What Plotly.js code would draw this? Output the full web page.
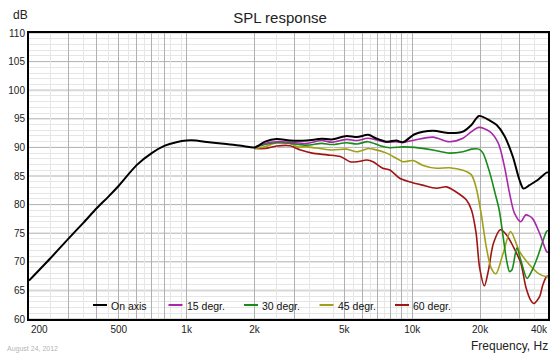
<!DOCTYPE html>
<html>
<head>
<meta charset="utf-8">
<script src="https://cdn.plot.ly/plotly-3.0.1.min.js"></script>
<style>
html,body{margin:0;padding:0;background:#fff;}
#chart{width:560px;height:356px;}
</style>
</head>
<body>
<div id="chart"></div>
<script>
// ---- data ----
const seriesNames = ['On axis', '15 degr.', '30 degr.', '45 degr.', '60 degr.'];
const seriesColors = ['#000000', '#a828a8', '#1a8a1a', '#a0a018', '#a01414'];

const freqOnAxis = [200, 250, 300, 350, 400, 450, 500, 600, 700, 800, 900, 1000, 1100, 1200, 1500, 1800, 2000, 2227, 2507, 2871, 3404, 3967, 4400, 5117, 5700, 6377, 6900, 7700, 8500, 9100, 10257, 12360, 14600, 16780, 18300, 19760, 22100, 23700, 25660, 27920, 29900, 31150, 33100, 36000, 39400, 40000];
const dbOnAxis = [66.7, 70.7, 74.1, 76.9, 79.4, 81.4, 83.3, 86.9, 89.0, 90.3, 90.9, 91.2, 91.2, 91.0, 90.6, 90.2, 90.0, 91.0, 91.45, 91.2, 91.2, 91.5, 91.4, 92.0, 91.8, 92.2, 91.6, 91.0, 91.2, 90.9, 92.3, 92.9, 92.5, 92.75, 93.9, 95.5, 94.7, 93.9, 92.0, 88.4, 84.3, 82.8, 83.4, 84.3, 85.6, 85.6];

const freq15 = [2000, 2227, 2507, 2871, 3404, 3967, 4400, 5117, 5700, 6377, 7700, 8500, 9100, 10257, 12360, 14600, 16780, 18300, 19760, 22100, 24100, 25660, 27010, 28400, 30300, 31900, 34100, 36700, 39400, 40000];
const db15 = [90.0, 90.7, 91.0, 90.9, 90.7, 91.2, 90.9, 91.4, 91.2, 91.6, 90.9, 91.0, 90.85, 91.3, 91.8, 91.0, 91.6, 92.75, 93.5, 92.75, 90.7, 86.6, 82.0, 78.5, 77.0, 78.2, 77.6, 75.0, 71.8, 71.6];

const freq30 = [2000, 2227, 2507, 2871, 3404, 3967, 4400, 5117, 5700, 6377, 7200, 7960, 9100, 10257, 12360, 14600, 16780, 18300, 19760, 20600, 22100, 23300, 24300, 25300, 26200, 27000, 27700, 29100, 30300, 32300, 34000, 36000, 39400, 40000];
const db30 = [90.0, 90.5, 90.8, 90.7, 90.4, 90.7, 90.5, 90.8, 90.6, 91.0, 90.3, 89.95, 90.1, 90.0, 89.55, 89.0, 89.25, 89.7, 89.7, 89.0, 85.5, 82.0, 79.1, 74.4, 70.3, 68.3, 68.6, 72.4, 70.3, 67.1, 68.5, 70.9, 75.3, 75.5];

const freq45 = [2000, 2227, 2507, 2871, 3100, 3404, 3900, 4400, 5117, 5700, 6377, 6700, 7700, 8500, 9100, 10100, 11100, 12800, 14600, 16800, 18300, 19200, 20200, 21300, 22400, 23500, 25300, 27300, 29900, 33100, 36500, 39400, 40000];
const db45 = [89.8, 90.1, 90.8, 90.7, 90.1, 90.1, 89.8, 89.55, 89.7, 89.25, 89.8, 89.7, 89.0, 88.1, 87.5, 87.7, 86.9, 86.35, 86.45, 86.0, 85.2, 83.0, 78.5, 72.6, 68.9, 67.9, 71.5, 75.3, 71.8, 69.5, 67.9, 67.4, 67.4];

const freq60 = [2000, 2227, 2507, 2871, 3000, 3200, 3600, 4200, 4800, 5300, 5700, 6300, 6700, 7400, 7960, 8800, 9700, 11100, 12800, 14200, 15600, 17400, 18300, 19200, 19900, 20900, 21800, 22900, 24600, 26200, 28100, 30300, 31900, 33500, 34600, 36700, 37900, 39400, 40000];
const db60 = [89.8, 89.8, 90.25, 90.3, 90.0, 89.55, 89.0, 88.7, 88.4, 87.5, 87.5, 87.8, 87.5, 86.35, 86.05, 84.6, 84.0, 83.4, 82.85, 83.1, 82.25, 80.8, 79.1, 75.0, 69.0, 65.8, 68.6, 73.2, 75.6, 74.7, 72.6, 69.8, 65.6, 63.3, 62.7, 63.9, 65.9, 67.4, 67.5];

const xMajorGrid = [300, 400, 500, 600, 700, 800, 1000, 2000, 3000, 5000, 6000, 7000, 8000, 9000, 10000, 20000, 30000];
const xMajorText = ['', '', '500', '', '', '', '1k', '2k', '', '5k', '', '', '', '', '10k', '20k', ''];
const xMinorGrid = [250, 350, 450, 550, 650, 750, 850, 950, 2500, 3500, 4500, 5500, 6500, 7500, 8500, 9500, 15000, 25000, 35000];
const xSoftGrid = [900, 4000];
const yTicks = [60, 70, 75, 80, 85, 90, 95, 105, 110];
const yTickLabels = [60, 65, 70, 75, 80, 85, 90, 95, 100, 105, 110];
const ySoftGrid = [65, 100];
const yMinorGrid = [];
for (let v = 61; v < 110; v++) if (v % 5 !== 0) yMinorGrid.push(v);

const freqs = [freqOnAxis, freq15, freq30, freq45, freq60];
const levels = [dbOnAxis, db15, db30, db45, db60];

// ---- traces ----
const traces = freqs.map((f, i) => ({
  type: 'scatter', mode: 'lines', x: f, y: levels[i], name: seriesNames[i],
  line: {color: seriesColors[i], width: i === 0 ? 2 : 1.6, shape: 'spline', smoothing: 0.8},
  hoverinfo: 'skip', showlegend: false
})).reverse();

const font = 'Arial, "Liberation Sans", sans-serif';
const shapes = [];
xSoftGrid.forEach(v => shapes.push({type: 'line', xref: 'x', yref: 'paper', x0: Math.log10(v), x1: Math.log10(v), y0: 0, y1: 1, layer: 'between', line: {color: '#d8d8d8', width: 2}}));
ySoftGrid.forEach(v => shapes.push({type: 'line', xref: 'paper', yref: 'y', x0: 0, x1: 1, y0: v, y1: v, layer: 'between', line: {color: '#d8d8d8', width: 2}}));

// legend (custom, inside plot)
const W = 519, H = 286, L = 29, T = 33;
const px2x = p => (p - L) / W, py2y = p => 1 - (p - T) / H;
shapes.push({type: 'rect', xref: 'paper', yref: 'paper', x0: px2x(85), x1: px2x(458), y0: py2y(314), y1: py2y(297), layer: 'between', fillcolor: '#ffffff', line: {width: 0}});
const annotations = [];
seriesNames.forEach((n, i) => {
  const x0 = 93 + i * 75.5;
  shapes.push({type: 'line', xref: 'paper', yref: 'paper', x0: px2x(x0), x1: px2x(x0 + 14), y0: py2y(305), y1: py2y(305), layer: 'above', line: {color: seriesColors[i], width: 2}});
  annotations.push({xref: 'paper', yref: 'paper', x: px2x(x0 + 16), y: py2y(305.5), xanchor: 'left', yanchor: 'middle', text: n, showarrow: false, font: {family: font, size: 10.5, color: '#111'}});
});
// end tick labels kept inside the frame
annotations.push({xref: 'x', yref: 'paper', x: Math.log10(200), y: 0, xanchor: 'left', yanchor: 'top', yshift: -3, text: '200', showarrow: false, font: {family: font, size: 10, color: '#222'}});
annotations.push({xref: 'x', yref: 'paper', x: Math.log10(40000), y: 0, xanchor: 'right', yanchor: 'top', xshift: 2, yshift: -3, text: '40k', showarrow: false, font: {family: font, size: 10, color: '#222'}});
annotations.push({xref: 'paper', yref: 'paper', x: px2x(11), y: py2y(15.5), xanchor: 'left', yanchor: 'middle', text: 'dB', showarrow: false, font: {family: font, size: 12, color: '#222'}});
annotations.push({xref: 'paper', yref: 'paper', x: px2x(550), y: py2y(345.5), xanchor: 'right', yanchor: 'middle', text: 'Frequency, Hz', showarrow: false, font: {family: font, size: 12, color: '#222'}});
annotations.push({xref: 'paper', yref: 'paper', x: px2x(5), y: py2y(349), xanchor: 'left', yanchor: 'middle', text: 'August 24, 2012', showarrow: false, font: {family: font, size: 7, color: '#b4b4b4'}});

const layout = {
  width: 560, height: 356,
  margin: {l: L, r: 12, t: T, b: 37},
  paper_bgcolor: '#ffffff', plot_bgcolor: '#ffffff',
  font: {family: font, color: '#222'},
  title: {text: 'SPL response', x: 0.5, xref: 'container', y: 1 - 18 / 356, yref: 'container', yanchor: 'middle', xanchor: 'center', font: {family: font, size: 15, color: '#222'}},
  xaxis: {
    type: 'log', range: [Math.log10(200), Math.log10(40000)],
    tickmode: 'array', tickvals: xMajorGrid, ticktext: xMajorText,
    ticks: '', showgrid: true, gridcolor: '#b0b0b0', gridwidth: 1,
    minor: {tickmode: 'array', tickvals: xMinorGrid, showgrid: true, gridcolor: '#e6e6e6', gridwidth: 1, ticks: ''},
    showline: true, mirror: true, linecolor: '#000', linewidth: 2, zeroline: false,
    tickfont: {family: font, size: 10, color: '#222'}, fixedrange: true
  },
  yaxis: {
    range: [60, 110], tickmode: 'array', tickvals: yTickLabels, ticktext: yTickLabels.map(String),
    ticks: '', showgrid: false,
    minor: {tickmode: 'array', tickvals: yMinorGrid, showgrid: true, gridcolor: '#e6e6e6', gridwidth: 1, ticks: ''},
    showline: true, mirror: true, linecolor: '#000', linewidth: 2, zeroline: false,
    tickfont: {family: font, size: 10, color: '#222'}, fixedrange: true
  },
  shapes: shapes.concat(yTicks.map(v => ({type: 'line', xref: 'paper', yref: 'y', x0: 0, x1: 1, y0: v, y1: v, layer: 'between', line: {color: '#b0b0b0', width: 1}}))),
  annotations: annotations,
  showlegend: false
};

Plotly.newPlot('chart', traces, layout, {displayModeBar: false, staticPlot: true});
</script>
</body>
</html>
